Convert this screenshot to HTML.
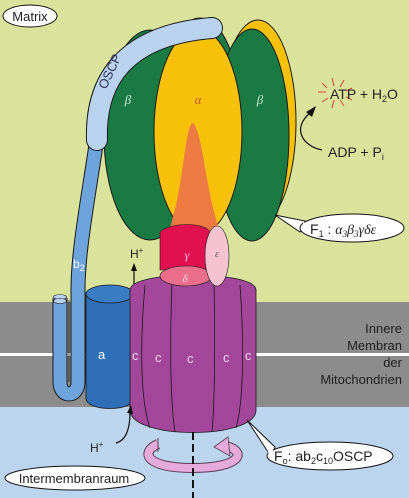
<!DOCTYPE html>
<html><head><meta charset="utf-8"><style>
html,body{margin:0;padding:0;width:409px;height:498px;overflow:hidden;background:#d9e39b}
svg{display:block}
text{font-family:"Liberation Sans",sans-serif}
.g{font-family:"Liberation Serif",serif;font-style:italic}
</style></head><body>
<svg width="409" height="498" viewBox="0 0 409 498">
<rect x="0" y="0" width="409" height="302" fill="#d9e39b"/>
<rect x="0" y="302" width="409" height="105" fill="#8c8c8c"/>
<rect x="0" y="353" width="409" height="3" fill="#fff"/>
<rect x="0" y="407" width="409" height="91" fill="#bcd5ee"/>

<g stroke="#1a1a1a" stroke-width="1">
<ellipse cx="200" cy="110" rx="40" ry="92" fill="#1a7a44"/>
<ellipse cx="258" cy="122" rx="38" ry="102" fill="#f7c10a"/>
<ellipse cx="150" cy="135" rx="46" ry="105" fill="#1a7a44"/>
<ellipse cx="252" cy="135" rx="37" ry="106" fill="#1a7a44"/>
<ellipse cx="198" cy="132" rx="44" ry="103" fill="#f7c10a"/>
</g>
<path d="M193,123 C186,124 184,170 176,205 L170,228 C190,240 210,238 218,225 C206,190 202,130 193,123 Z" fill="#ec7a42"/>
<text x="198" y="104" class="g" font-size="13" fill="#c0581d" text-anchor="middle">α</text>
<text x="128" y="104" class="g" font-size="13" fill="#bfe8d0" text-anchor="middle">β</text>
<text x="260" y="104" class="g" font-size="13" fill="#bfe8d0" text-anchor="middle">β</text>

<!-- b2 -->
<g fill="none" stroke-linecap="butt">
<path d="M60,298 L60,382 C60,398 78,398 78,382 L78,290 C78,250 88,200 97,138" stroke="#1a1a1a" stroke-width="15"/>
<path d="M60,298 L60,382 C60,398 78,398 78,382 L78,290 C78,250 88,200 97,138" stroke="#6fa3dc" stroke-width="13"/>
<path d="M69,300 L69,382" stroke="#1a1a1a" stroke-width="0.8"/>
</g>
<ellipse cx="60" cy="297" rx="6.5" ry="2.5" fill="#b9d3ef" stroke="#1a1a1a" stroke-width="0.6"/>
<ellipse cx="60" cy="301" rx="6.5" ry="2.5" fill="#b9d3ef" stroke="#1a1a1a" stroke-width="0.6"/>
<!-- OSCP -->
<g fill="none">
<path d="M97,140 C95,80 125,35 212,28" stroke="#1a1a1a" stroke-width="22" stroke-linecap="round"/>
<path d="M97,140 C95,80 125,35 212,28" stroke="#b9d3ef" stroke-width="20" stroke-linecap="round"/>
</g>
<text x="0" y="0" font-size="13" fill="#335" transform="translate(106,90) rotate(-65)">OSCP</text>
<text x="73" y="268" font-size="12" fill="#fff">b<tspan font-size="9" dy="3">2</tspan></text>

<!-- a subunit -->
<path d="M86,294 L86,398 C86,412 134,412 134,398 L134,294 Z" fill="#2f6fb8" stroke="#1a1a1a" stroke-width="0.8"/>
<ellipse cx="110" cy="294" rx="24" ry="9" fill="#3a7cc4" stroke="#1a1a1a" stroke-width="0.8"/>
<text x="98" y="359" font-size="13" fill="#fff">a</text>

<!-- c ring -->
<g stroke="#1a1a1a" stroke-width="0.8">
<path d="M130,290 C130,270 256,270 256,290 L256,410 C256,440 130,440 130,410 Z" fill="#a3479a"/>
<path d="M145,285 C140,340 140,400 150,428 M172,280 C170,340 170,400 175,432 M214,280 C215,340 215,400 212,432 M240,285 C244,340 244,400 236,428" fill="none"/>
</g>
<g font-size="13" fill="#f4d5f0">
<text x="132" y="360">c</text><text x="155" y="362">c</text><text x="187" y="363">c</text><text x="223" y="362">c</text><text x="245" y="360">c</text>
</g>

<!-- gamma epsilon delta -->
<path d="M160,232 C170,222 205,222 210,232 L210,270 L160,270 Z" fill="#e0114e" stroke="#1a1a1a" stroke-width="0.6"/>
<ellipse cx="186" cy="276" rx="26" ry="10" fill="#eb6f8c" stroke="#1a1a1a" stroke-width="0.6"/>
<ellipse cx="217" cy="256" rx="12" ry="30" fill="#f5c3d0" stroke="#1a1a1a" stroke-width="0.6"/>
<text x="187" y="259" class="g" font-size="12" fill="#fbd" text-anchor="middle">γ</text>
<text x="185" y="282" class="g" font-size="11" fill="#fde" text-anchor="middle">δ</text>
<text x="217" y="257" class="g" font-size="11" fill="#666" text-anchor="middle">ε</text>

<!-- H+ arrows -->
<text x="130" y="258" font-size="12" fill="#222">H<tspan font-size="8" dy="-5">+</tspan></text>
<path d="M134,284 L134,270" stroke="#111" stroke-width="1.2"/><path d="M131,271 L134,263 L137,271 Z" fill="#111"/>
<text x="90" y="452" font-size="12" fill="#222">H<tspan font-size="8" dy="-5">+</tspan></text>
<path d="M116,443 C128,440 130,425 130,412" fill="none" stroke="#111" stroke-width="1.2"/><path d="M127,413 L131,405 L133,414 Z" fill="#111"/>

<!-- rotation -->
<g fill="none">
<path d="M158,444 C140,452 145,468 193,468 C240,468 248,452 226,446" stroke="#5a3a55" stroke-width="10"/>
<path d="M158,444 C140,452 145,468 193,468 C240,468 248,452 226,446" stroke="#e6a9dc" stroke-width="8"/>
<path d="M158,438 L158,452" stroke="#5a3a55" stroke-width="1"/>
</g>
<path d="M228,437 L214,447 L230,456 Z" fill="#e6a9dc" stroke="#5a3a55" stroke-width="0.8"/>
<line x1="193" y1="432" x2="193" y2="498" stroke="#111" stroke-width="2" stroke-dasharray="8,4"/>

<!-- labels -->
<ellipse cx="30" cy="16" rx="27" ry="11" fill="#fff" stroke="#111"/>
<text x="30" y="21" font-size="13" fill="#222" text-anchor="middle">Matrix</text>
<ellipse cx="75" cy="478" rx="70" ry="12" fill="#fff" stroke="#111"/>
<text x="74" y="483" font-size="13" fill="#222" text-anchor="middle">Intermembranraum</text>

<path d="M275,215 L310,222 L300,232 Z" fill="#fff" stroke="#111"/>
<ellipse cx="352" cy="228" rx="52" ry="14" fill="#fff" stroke="#111"/>
<path d="M303,222 L309,225 L304,232 Z" fill="#fff"/>
<text x="310" y="234" font-size="14" fill="#222">F<tspan font-size="9" dy="3">1</tspan><tspan dy="-3"> : </tspan><tspan class="g">α<tspan font-size="9" dy="3">3</tspan><tspan dy="-3">β</tspan><tspan font-size="9" dy="3">3</tspan><tspan dy="-3">γδε</tspan></tspan></text>

<path d="M247,420 L275,447 L272,458 Z" fill="#fff" stroke="#111"/>
<ellipse cx="330" cy="456" rx="63" ry="14" fill="#fff" stroke="#111"/>
<path d="M266,446 L273,450 L270,458 Z" fill="#fff"/>
<text x="274" y="461" font-size="14" fill="#222">F<tspan font-size="9" dy="3">o</tspan><tspan dy="-3">: ab</tspan><tspan font-size="9" dy="3">2</tspan><tspan dy="-3">c</tspan><tspan font-size="9" dy="3">10</tspan><tspan dy="-3">OSCP</tspan></text>

<text x="402" y="333" font-size="13" fill="#222" text-anchor="end">Innere</text>
<text x="402" y="350" font-size="13" fill="#222" text-anchor="end">Membran</text>
<text x="402" y="367" font-size="13" fill="#222" text-anchor="end">der</text>
<text x="402" y="384" font-size="13" fill="#222" text-anchor="end">Mitochondrien</text>

<g stroke="#e8473a" stroke-width="1">
<line x1="318" y1="92" x2="326" y2="92"/><line x1="322" y1="83" x2="327" y2="88"/><line x1="332" y1="78" x2="334" y2="86"/><line x1="344" y1="80" x2="340" y2="87"/><line x1="352" y1="88" x2="346" y2="91"/>
<line x1="322" y1="102" x2="328" y2="98"/><line x1="332" y1="108" x2="334" y2="100"/><line x1="344" y1="106" x2="340" y2="100"/><line x1="352" y1="100" x2="346" y2="97"/>
</g>
<text x="330" y="99" font-size="14" fill="#222">ATP + H<tspan font-size="9" dy="3">2</tspan><tspan dy="-3">O</tspan></text>
<text x="328" y="157" font-size="14" fill="#222">ADP + P<tspan font-size="9" dy="3">i</tspan></text>
<path d="M322,150 C302,146 292,128 310,113" fill="none" stroke="#111" stroke-width="1.2"/>
<path d="M306,112 L316,106 L312,117 Z" fill="#111"/>
</svg>
</body></html>
